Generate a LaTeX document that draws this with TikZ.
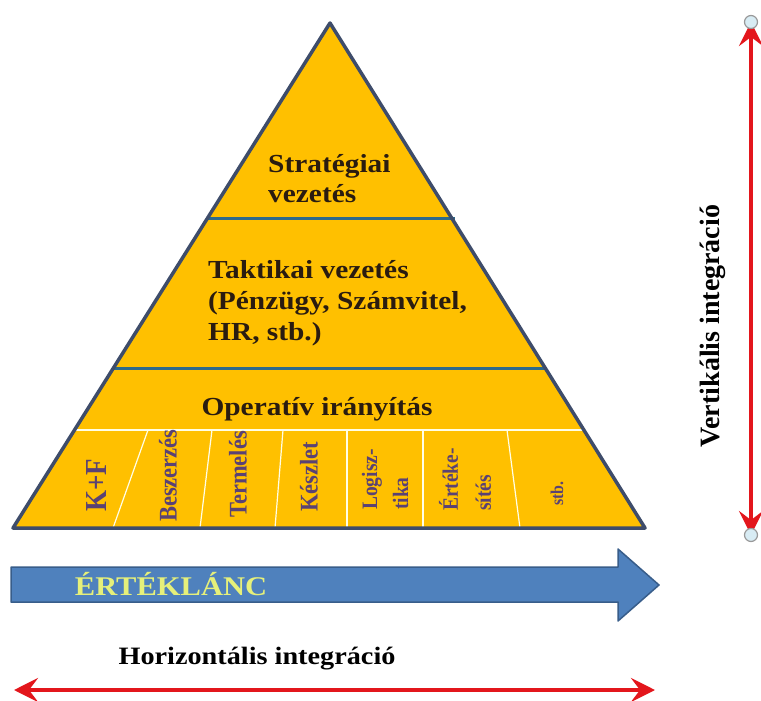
\documentclass[tikz,border=0pt]{standalone}
\usepackage{fontspec}
\setmainfont{Liberation Serif}
\newfontfamily\hfont{Liberation Serif}[FakeStretch=1.13]
\newfontfamily\vfont{Liberation Serif}[FakeStretch=0.885]
\usetikzlibrary{arrows.meta}
\definecolor{pgold}{HTML}{FFC000}
\definecolor{pedge}{HTML}{3E4C6A}
\definecolor{pdiv}{HTML}{2E6A8A}
\definecolor{ptext}{HTML}{2A1C10}
\definecolor{ctext}{HTML}{5A4274}
\definecolor{bfill}{HTML}{4F81BD}
\definecolor{bedge}{HTML}{385D8A}
\definecolor{ylab}{HTML}{E6F07A}
\definecolor{rarrow}{HTML}{E3161C}
\definecolor{hfill}{HTML}{D8ECF4}
\tikzset{
  pyrline/.style={draw=pedge, line width=3.5pt, line join=round},
  divline/.style={draw=pdiv, line width=3pt},
  colline/.style={draw=white!90!yellow, line width=1.2pt},
  htext/.style={inner sep=0pt, text=ptext, align=left},
  coltext/.style={inner sep=0pt, text=ctext, rotate=90, anchor=west, align=left},
  redarrow/.style={draw=rarrow, line width=4pt,
    arrows={Stealth[length=24pt,width=24pt,inset=9pt]-Stealth[length=24pt,width=24pt,inset=9pt]}},
  handle/.style={circle, draw=gray!80, fill=hfill, line width=1.2pt, minimum size=13pt, inner sep=0pt},
}
\begin{document}
\begin{tikzpicture}[x=1pt,y=-1pt]
\useasboundingbox (0,0) rectangle (761,701);
\fill[white] (0,0) rectangle (761,701);
% pyramid
\coordinate (apex) at (330,23);
\coordinate (bl) at (13,528);
\coordinate (br) at (645,528);
\fill[pgold] (apex) -- (bl) -- (br) -- cycle;
% column grid
\draw[colline] (74.5,430) -- (586,430);
\draw[colline] (148,430) -- (113,528);
\draw[colline] (212,430) -- (200,528);
\draw[colline] (283,430) -- (275,528);
\draw[colline] (347,430) -- (347,528);
\draw[colline] (423,430) -- (423,528);
\draw[colline] (507,430) -- (520,528);
% level dividers
\draw[divline] (207,218) -- (455,218);
\draw[divline] (113,368) -- (545,368);
% outline
\draw[pyrline] (apex) -- (bl) -- (br) -- cycle;
% level texts
\node[htext, anchor=west, font=\hfont\bfseries\fontsize{26}{30}\selectfont] (strat) at (268,179) {Stratégiai\\vezetés};
\node[htext, anchor=west, font=\hfont\bfseries\fontsize{26}{31}\selectfont] (takt) at (208,303) {Taktikai vezetés\\(Pénzügy, Számvitel,\\HR, stb.)};
\node[htext, font=\hfont\bfseries\fontsize{26}{30}\selectfont] (oper) at (317,409) {Operatív irányítás};
% column texts
\node[coltext, font=\vfont\bfseries\fontsize{30.5}{34}\selectfont] (kf) at (97,512) {K+F};
\node[coltext, font=\vfont\bfseries\fontsize{25.4}{30}\selectfont] (besz) at (168,522) {Beszerzés};
\node[coltext, font=\vfont\bfseries\fontsize{25.4}{30}\selectfont] (term) at (238,518) {Termelés};
\node[coltext, font=\vfont\bfseries\fontsize{25.4}{30}\selectfont] (kesz) at (309,512) {Készlet};
\node[coltext, font=\vfont\bfseries\fontsize{22}{31}\selectfont] (log) at (385,510) {Logisz-\\tika};
\node[coltext, font=\vfont\bfseries\fontsize{22}{33}\selectfont] (ert) at (465,511) {Értéke-\\sítés};
\node[coltext, font=\vfont\bfseries\fontsize{18}{22}\selectfont] (stb) at (557,506) {stb.};
% value chain arrow
\draw[fill=bfill, draw=bedge, line width=1.5pt, line join=round]
  (11,567) -- (618,567) -- (618,549) -- (659,585) -- (618,621) -- (618,602) -- (11,602) -- cycle;
\node[inner sep=0pt, text=ylab, font=\hfont\bfseries\fontsize{27}{30}\selectfont] (lanc) at (171,584) {ÉRTÉKLÁNC};
% horizontal integration
\node[inner sep=0pt, font=\hfont\bfseries\fontsize{25}{30}\selectfont] (hint) at (257,659) {Horizontális integráció};
\coordinate (hl) at (14,690);
\coordinate (hr) at (655,690);
\draw[redarrow] (hl) -- (hr);
% vertical integration
\node[inner sep=0pt, rotate=90, font=\bfseries\fontsize{28}{30}\selectfont] (vint) at (713,326) {Vertikális integráció};
\coordinate (vt) at (751,22);
\coordinate (vb) at (751,535);
\draw[redarrow] (vt) -- (vb);
\node[handle] (h1) at (vt) {};
\node[handle] (h2) at (vb) {};
\end{tikzpicture}
\end{document}
